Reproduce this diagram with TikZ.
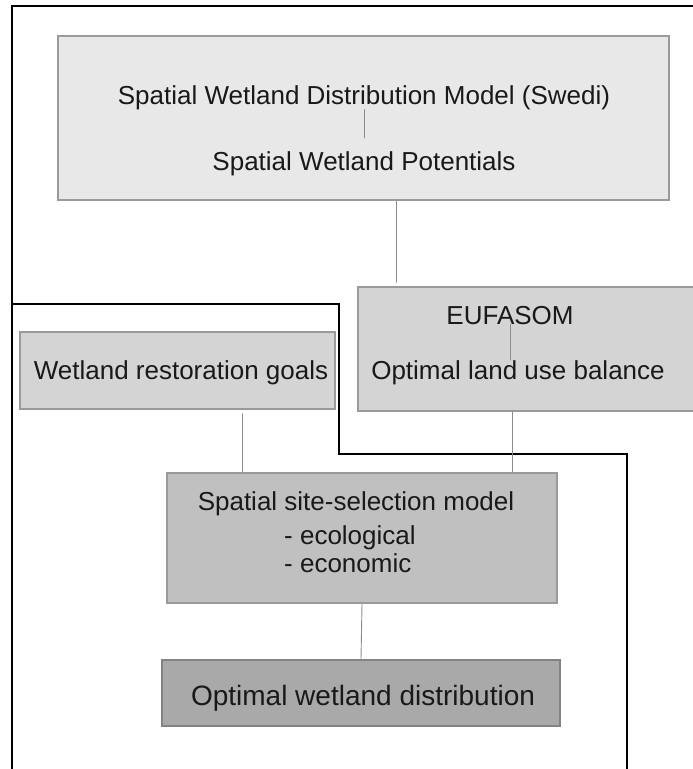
\documentclass[tikz,border=0pt]{standalone}
\usepackage{fontspec}
\setmainfont{Liberation Sans}
\usetikzlibrary{calc}
\definecolor{boxlight}{HTML}{E8E8E8}
\definecolor{boxmid}{HTML}{D4D4D4}
\definecolor{boxsite}{HTML}{C0C0C0}
\definecolor{boxdark}{HTML}{A9A9A9}
\definecolor{boxedge}{HTML}{9A9A9A}
\definecolor{linkgray}{HTML}{8C8C8C}

\begin{document}
\begin{tikzpicture}[x=1pt,y=-1pt,line cap=round,
  modelbox/.style={draw=boxedge,line width=1.6pt,inner sep=0pt},
  boxtext/.style={inner sep=0pt,anchor=base,text=black!90,font=\fontsize{26}{30}\selectfont},
  link/.style={draw=linkgray,line width=0.9pt},
  frameline/.style={draw=black,line width=2.2pt,line cap=butt}]
\useasboundingbox (0,0) rectangle (693,769);
\draw[frameline] (12,770) -- (12,6) -- (694,6);
\draw[frameline] (12,304) -- (339,304) -- (339,454) -- (627,454) -- (627,770);
\node[modelbox,fill=boxlight,minimum width=611pt,minimum height=164pt] (swedi) at (363.5,118) {};
\node[modelbox,fill=boxmid,minimum width=336pt,minimum height=124pt] (eufasom) at (526,349) {};
\node[modelbox,fill=boxmid,minimum width=315pt,minimum height=77pt] (goals) at (177.5,370.5) {};
\node[modelbox,fill=boxsite,minimum width=390pt,minimum height=130pt] (site) at (362,538) {};
\node[modelbox,fill=boxdark,draw=boxedge!85!black,minimum width=398pt,minimum height=66pt] (final) at (361,693) {};
\node[boxtext] (swedimodel) at (364,104) {Spatial Wetland Distribution Model (Swedi)};
\node[boxtext] (swedipot) at (364,170) {Spatial Wetland Potentials};
\node[boxtext] (eufasomname) at (510,324) {EUFASOM};
\node[boxtext] (landuse) at (518,379) {Optimal land use balance};
\node[boxtext] (goalstext) at (181,379) {Wetland restoration goals};
\node[boxtext] (sitetitle) at (356,510) {Spatial site-selection model};
\node[boxtext,anchor=base west] (ecol) at (284,544) {- ecological};
\node[boxtext,anchor=base west] (econ) at (284,572) {- economic};
\node[boxtext,font=\fontsize{28}{32}\selectfont] (finaltext) at (363,705) {Optimal wetland distribution};
\draw[link,shorten >=13pt] (swedimodel.south) -- (swedimodel.south |- swedipot.north);
\draw[link] (eufasomname.south) -- (eufasomname.south |- landuse.north);
\draw[link,shorten >=4pt] ($(swedi.south)+(33,0)$) -- ($(eufasom.north -| swedi.south)+(33,0)$);
\draw[link,shorten <=4pt] ($(goals.south)+(64.5,0)$) -- ($(site.north -| goals.south)+(64.5,0)$);
\draw[link] ($(eufasom.south)+(-14,0)$) -- ($(site.north -| eufasom.south)+(-14,0)$);
\draw[link] (site.south) -- (final.north);
\end{tikzpicture}
\end{document}
